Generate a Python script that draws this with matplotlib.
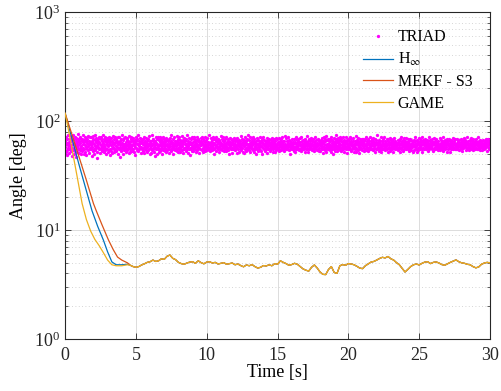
import matplotlib
matplotlib.use("Agg")
import matplotlib.pyplot as plt
import numpy as np
from matplotlib.ticker import LogLocator, NullFormatter

plt.rcParams["font.family"] = ["Liberation Serif", "DejaVu Serif"]
plt.rcParams["mathtext.fontset"] = "stix"

# Colores estilo MATLAB
COLOR_TRIAD = "#ff00ff"
COLOR_HINF = "#0072bd"
COLOR_MEKF = "#d95319"
COLOR_GAME = "#edb120"

# TRIAD: error en grados, muestras leídas a ojo de la banda
TRIAD_DEG = [int(v) for v in """
58 66 52 61 71 54 63 49 68 57 60 74 55 64 51 62 69 56 59 73 53 65 60 48 67 57 70 54 62 75
50 63 68 56 72 59 53 66 61 47 70 58 64 52 69 60 55 76 62 51 66 57 71 54 63 59 68 50 65 56
69 53 61 74 57 64 50 67 55 72 60 52 65 58 70 49 63 56 68 61 54 73 59 66 51 62 57 71 55 64
62 71 55 60 48 66 58 73 53 63 69 56 61 50 67 59 74 54 64 57 70 52 60 65 46 68 58 63 72 55
57 64 70 51 62 68 55 60 72 58 53 66 61 75 56 63 52 69 59 65 54 71 57 62 50 67 60 55 64 70
65 52 59 67 54 71 61 56 64 49 68 60 53 70 57 62 66 51 73 58 63 55 69 52 61 72 56 64 59 53
54 69 63 58 66 50 72 57 62 55 64 71 58 47 65 61 56 68 53 60 74 57 63 50 67 59 54 70 62 57
61 57 72 55 64 59 52 67 60 70 54 62 57 66 51 73 59 64 56 61 52 68 58 65 71 55 60 53 66 61
70 55 60 64 52 67 58 63 49 71 57 65 61 54 68 56 62 75 53 59 66 61 55 70 57 63 51 64 58 68
56 63 67 53 69 61 55 72 58 64 51 60 66 57 63 54 70 59 52 65 58 62 68 54 60 73 56 61 66 50
63 59 51 66 57 62 74 54 60 67 56 69 52 61 58 64 48 66 60 55 71 57 63 50 68 62 55 59 72 57
52 67 60 56 71 53 64 59 68 55 62 50 65 57 72 60 54 63 69 57 61 53 66 59 64 56 70 52 62 60
67 54 65 60 58 69 51 62 56 70 59 63 55 74 53 66 61 57 64 50 68 59 55 62 71 57 63 60 54 66
59 62 56 73 53 61 66 57 64 52 68 60 71 55 63 58 67 52 60 65 56 62 73 54 59 67 51 64 57 69
55 70 62 57 65 60 53 68 61 56 74 58 63 51 66 59 55 70 62 57 64 49 61 68 55 63 60 72 53 58
64 57 53 68 60 72 58 55 66 61 52 67 59 63 56 71 60 54 65 58 69 62 57 51 66 60 64 56 70 61
60 66 71 54 63 57 69 61 52 65 59 56 72 60 64 53 58 67 55 62 60 70 54 64 58 62 75 57 61 55
53 61 58 64 56 70 62 59 67 54 63 71 57 61 55 68 63 50 60 69 57 65 59 53 72 58 61 66 55 63
68 58 63 52 67 59 55 64 60 73 56 62 54 69 61 57 65 59 72 53 62 58 66 60 56 68 53 63 59 71
57 64 55 69 61 54 66 58 62 50 70 59 64 57 62 68 55 61 57 64 51 67 60 55 63 59 70 57 65 54
62 56 68 60 58 65 51 70 57 63 60 55 67 61 59 52 66 63 58 56 73 60 54 68 61 57 64 52 60 67
51 67 59 63 55 71 60 57 65 53 61 68 56 62 74 58 60 54 67 61 57 63 59 71 52 64 58 61 69 56
66 60 54 71 62 57 64 52 69 59 56 63 61 50 65 58 70 62 55 60 67 53 62 58 65 56 72 60 54 63
59 53 66 58 64 50 68 61 57 72 62 55 60 67 57 63 53 59 66 61 56 70 58 63 51 67 59 55 64 61
63 69 57 61 53 67 59 62 56 64 58 70 52 65 60 55 69 57 63 59 52 61 66 57 70 54 62 60 57 68
55 61 64 56 70 58 53 66 60 62 54 68 59 63 57 71 61 55 64 58 66 60 53 65 59 62 57 73 55 60
70 57 60 65 55 63 61 58 71 54 67 60 56 62 50 66 58 64 60 68 55 62 59 64 56 61 68 53 63 58
58 64 52 68 61 56 72 59 55 63 60 65 57 69 61 54 63 70 56 60 64 57 71 53 62 58 66 60 55 67
61 55 67 59 63 52 65 57 69 60 56 62 73 55 64 59 52 66 61 57 69 60 55 63 58 67 61 56 70 59
54 66 61 57 68 60 55 64 59 53 71 62 58 65 56 61 67 54 63 59 62 56 68 60 65 57 61 53 66 62
60 53 67 62 57 70 55 64 59 66 51 63 58 72 56 61 68 54 65 60 57 73 52 62 67 59 55 69 61 56
66 58 62 54 69 60 65 52 71 57 63 59 55 67 61 50 64 58 70 62 56 66 60 53 68 57 63 74 59 64
53 65 59 70 56 63 58 67 61 54 72 60 57 65 53 69 62 56 60 71 58 64 55 67 61 52 66 59 63 57
71 56 64 58 62 51 67 60 55 69 58 63 66 57 61 55 72 60 64 53 68 59 62 56 70 60 57 65 52 62
58 62 55 66 60 73 57 63 52 61 67 56 60 70 54 64 58 62 51 66 60 55 69 63 57 61 65 54 68 60
64 59 69 53 61 57 65 60 68 56 62 54 71 59 63 57 66 61 55 69 53 62 58 65 60 56 72 61 59 66
56 68 60 63 55 66 61 54 70 59 64 57 62 52 68 60 55 63 67 57 61 74 56 60 64 58 53 67 62 57
62 54 66 59 72 58 52 65 61 56 60 68 55 63 59 71 57 62 60 54 66 59 63 57 69 61 55 60 65 52
69 61 57 64 58 62 56 70 53 67 61 58 65 56 60 64 52 68 59 63 57 62 70 55 61 66 59 57 63 60
55 63 62 57 67 54 63 58 66 60 52 69 61 57 72 55 63 60 66 58 61 53 67 59 64 56 62 70 58 65
61 57 70 55 60 64 59 62 55 68 63 57 60 53 65 61 58 69 56 62 60 67 54 63 58 61 66 52 60 64
67 60 54 62 65 58 71 56 61 59 65 52 67 60 57 63 54 61 70 57 64 59 56 68 60 62 57 65 55 71
52 64 61 67 57 63 55 60 69 57 62 66 58 55 64 60 67 57 62 53 59 65 61 57 71 55 63 59 67 58
63 58 66 56 62 60 68 53 64 61 57 70 55 62 58 66 56 64 59 61 68 55 60 63 54 66 58 62 60 56
59 70 57 61 54 67 60 63 58 65 55 61 64 59 71 53 60 66 57 63 55 62 67 60 58 64 52 69 61 63
65 55 62 59 68 61 57 66 52 60 63 58 67 56 61 65 59 55 70 61 58 63 57 66 62 55 60 68 56 59
57 63 60 69 56 62 65 58 61 67 54 63 59 61 56 69 62 58 64 57 67 53 62 59 65 57 61 64 58 70
62 59 67 54 64 58 61 72 57 63 60 56 66 62 58 60 54 67 61 57 63 60 56 70 59 63 66 57 61 54
68 57 61 64 59 55 66 60 63 57 69 61 56 64 60 57 71 55 62 66 59 61 57 63 54 67 60 62 58 65
54 62 65 58 61 67 57 63 55 62 58 66 60 57 68 62 59 64 53 60 65 58 62 69 56 61 57 66 60 63
""".split()]

# Transitorios de cada filtro (t [s], error [deg])
HINF_T = [0.0, 0.5, 1.0, 1.5, 1.9, 2.3, 2.7, 3.0, 3.3, 3.6, 4.0, 4.4]
HINF_DEG = [118, 68, 39, 23, 15, 10.8, 8.1, 6.3, 5.1, 4.8, 4.8, 4.85]

MEKF_T = [0.0, 0.5, 1.0, 1.5, 2.0, 2.2, 2.6, 3.06, 3.4, 3.7, 4.0, 4.4]
MEKF_DEG = [118, 74, 46, 28.7, 17.5, 15, 11.2, 8.1, 6.6, 5.65, 5.3, 5.0]

GAME_T = [0.0, 0.3, 0.6, 0.9, 1.2, 1.5, 1.8, 2.1, 2.4, 2.7, 3.0, 3.3, 3.6, 4.0, 4.4]
GAME_DEG = [118, 75, 46, 28, 17.5, 12.5, 9.8, 8.2, 7.2, 6.2, 5.3, 4.8, 4.7, 4.7, 4.8]

# Régimen permanente común (de 4.6 s a 30 s, paso 0.2 s)
TAIL_DEG = [
    4.75, 4.62, 4.55, 4.62, 4.78, 4.90, 5.05, 5.12, 5.30, 5.15,
    5.22, 5.45, 5.38, 5.75, 5.90, 5.50, 5.35, 5.05, 4.92, 4.85,
    4.98, 5.08, 5.12, 4.95, 5.22, 5.02, 4.90, 5.08, 5.12, 4.98,
    5.05, 4.88, 4.95, 5.02, 4.85, 4.92, 4.98, 4.80, 4.88, 4.72,
    4.60, 4.78, 4.70, 4.82, 4.62, 4.48, 4.55, 4.72, 4.68, 4.80,
    4.70, 4.92, 4.85, 5.22, 5.05, 4.92, 4.75, 4.82, 4.95, 4.85,
    4.62, 4.40, 4.28, 4.20, 4.55, 4.78, 4.48, 4.12, 3.92, 3.90,
    4.35, 4.62, 4.08, 4.00, 4.70, 4.82, 4.75, 4.92, 4.88, 4.80,
    4.65, 4.48, 4.42, 4.70, 4.88, 5.08, 5.15, 5.30, 5.48, 5.62,
    5.55, 5.72, 5.45, 5.30, 5.02, 4.80, 4.45, 4.12, 4.35, 4.62,
    4.80, 4.88, 4.78, 4.95, 5.08, 5.12, 4.92, 5.05, 5.10, 4.98,
    4.82, 4.75, 4.90, 5.05, 5.18, 5.32, 5.12, 5.00, 4.95, 4.85,
    4.80, 4.62, 4.50, 4.58, 4.85, 4.98, 5.05, 5.00,
]

t_triad = np.linspace(0, 30, len(TRIAD_DEG))
t_tail = np.linspace(4.6, 30.0, len(TAIL_DEG))

fig = plt.figure(figsize=(5.01, 3.91), dpi=100)
ax = fig.add_axes([0.13, 0.133, 0.848, 0.836])

ax.plot(t_triad, TRIAD_DEG, "o", color=COLOR_TRIAD, markersize=2.4,
        markeredgewidth=0, label="TRIAD", zorder=2)
for ts, ys, col, lab in (
    (HINF_T, HINF_DEG, COLOR_HINF, r"H$_\infty$"),
    (MEKF_T, MEKF_DEG, COLOR_MEKF, "MEKF - S3"),
    (GAME_T, GAME_DEG, COLOR_GAME, "GAME"),
):
    ax.plot(list(ts) + list(t_tail), list(ys) + TAIL_DEG, color=col,
            linewidth=0.9, label=lab, zorder=3)

ax.set_yscale("log")
ax.set_xlim(0, 30)
ax.set_ylim(1, 1000)
ax.set_xticks(range(0, 31, 5))
ax.yaxis.set_minor_locator(LogLocator(base=10, subs=np.arange(2, 10)))
ax.yaxis.set_minor_formatter(NullFormatter())

ax.grid(which="major", color="#dcdcdc", linewidth=0.7)
ax.grid(which="minor", axis="y", color="#c8c8c8", linestyle=(0, (1, 3)),
        linewidth=0.6)
ax.set_axisbelow(True)

ax.tick_params(which="both", direction="in", top=True, right=True,
               labelsize=13, colors="#262626")
ax.tick_params(which="major", length=4, width=0.6)
ax.tick_params(axis="x", which="major", pad=6)
ax.tick_params(which="minor", length=2.5, width=0.5)
for lado in ax.spines.values():
    lado.set_color("#262626")
    lado.set_linewidth(0.8)

ax.set_xlabel("Time [s]", fontsize=13, labelpad=0)
ax.set_ylabel("Angle [deg]", fontsize=13, labelpad=5)

leg = ax.legend(loc="upper left", bbox_to_anchor=(0.7, 0.947),
                frameon=False, fontsize=11.5, handlelength=1.9,
                borderaxespad=0, borderpad=0,
                labelspacing=0.36, handletextpad=0.3)

fig.savefig("out.png", dpi=100)
